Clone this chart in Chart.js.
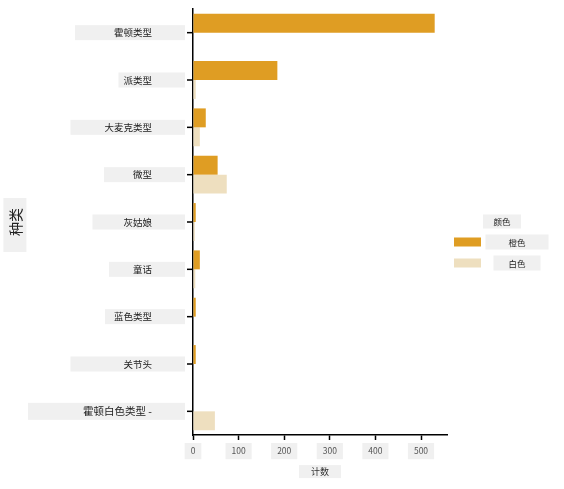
<!DOCTYPE html>
<html lang="zh">
  <head>
    <meta charset="UTF-8" />
    <title>种类计数</title>
    <script src="https://cdn.jsdelivr.net/npm/chart.js@4"></script>
    <style>
      html, body { margin: 0; padding: 0; background: #fff; }
    </style>
  </head>
  <body>
    <canvas id="myChart" width="564" height="489"></canvas>
    <script>
      // data
      const varieties = ["霍顿类型", "派类型", "大麦克类型", "微型", "灰姑娘", "童话", "蓝色类型", "关节头", "霍顿白色类型 -"];
      const orangeCounts = [530, 185, 28, 54, 6, 15, 6, 6, 0];
      const whiteCounts = [0, 6, 15, 74, 4, 5, 0, 0, 48];
      const seriesNames = ["橙色", "白色"];
      const xTicks = [0, 100, 200, 300, 400, 500];
      const xTitle = "计数";
      const yTitle = "种类";
      const legendTitle = "颜色";

      const FONT = "'Noto Sans CJK SC', 'Noto Sans', sans-serif";
      const BOX = "#f0f0f0";
      const Y_PAD = 36;
      // grey label boxes: extra room left of each category label
      const catBoxLeft = [39, 5, 34, 29, 31, 24, 9, 53, 55];

      const catFont = (i) => (i === varieties.length - 1 ? 10.5 : 9.5);

      const labelBoxes = {
        id: "labelBoxes",
        beforeDraw(chart) {
          const ctx = chart.ctx;
          const area = chart.chartArea;
          const x = chart.scales.x;
          const y = chart.scales.y;
          ctx.save();
          ctx.fillStyle = BOX;
          // y title box
          const ycx = y.left + 7 + 14 * 1.2 / 2;
          const ycy = (area.top + area.bottom) / 2;
          ctx.fillRect(ycx - 12, ycy - 24, 23, 54);
          // x title box
          const xcx = (area.left + area.right) / 2;
          const xcy = x.bottom - 4 - 9 * 1.2 / 2;
          ctx.fillRect(xcx - 21, xcy - 6.5, 42, 13);
          // category label boxes
          const textRight = y.right - 5 - Y_PAD;
          y.ticks.forEach((t, i) => {
            ctx.font = catFont(i) + "px " + FONT;
            const w = ctx.measureText(varieties[i]).width;
            const cy = y.getPixelForTick(i);
            const left = textRight - w - catBoxLeft[i];
            const h = i === varieties.length - 1 ? 17 : 15;
            ctx.fillStyle = BOX;
            ctx.fillRect(left, cy - h / 2, textRight + 33 - left, h);
          });
          ctx.restore();
        },
        afterDraw(chart) {
          const ctx = chart.ctx;
          const area = chart.chartArea;
          const y = chart.scales.y;
          ctx.save();
          // tick marks at category centres
          ctx.fillStyle = "#000";
          y.ticks.forEach((t, i) => {
            const cy = y.getPixelForTick(i);
            ctx.fillRect(area.left - 6, cy - 0.75, 6, 1.5);
          });
          // legend
          const x0 = area.right + 7;
          const mid = (area.top + area.bottom) / 2;
          ctx.textBaseline = "middle";
          ctx.textAlign = "center";
          ctx.font = "8.5px " + FONT;
          ctx.fillStyle = BOX;
          ctx.fillRect(x0 + 29, mid - 7.5, 38, 14);
          ctx.fillStyle = "#222";
          ctx.fillText(legendTitle, x0 + 48, mid - 0.5);
          const pads = [23, 15];
          chart.data.datasets.forEach((ds, i) => {
            const cy = mid + 20 + i * 21;
            ctx.fillStyle = ds.backgroundColor;
            ctx.fillRect(x0, cy - 4.5, 27, 9);
            const tx = x0 + 63;
            const w = ctx.measureText(ds.label).width;
            ctx.fillStyle = BOX;
            ctx.fillRect(tx - w / 2 - pads[i], cy - 7.5, w + pads[i] * 2, 15);
            ctx.fillStyle = "#222";
            ctx.fillText(ds.label, tx, cy + 0.5);
          });
          ctx.restore();
        },
      };

      new Chart(document.getElementById("myChart"), {
        type: "bar",
        data: {
          labels: varieties,
          datasets: [
            { label: seriesNames[0], data: orangeCounts, backgroundColor: "#df9d23" },
            { label: seriesNames[1], data: whiteCounts, backgroundColor: "#eedfbf" },
          ],
        },
        options: {
          indexAxis: "y",
          responsive: false,
          animation: false,
          layout: { padding: { top: 9, right: 117, bottom: 8, left: 0 } },
          datasets: { bar: { barPercentage: 1, categoryPercentage: 0.8 } },
          plugins: { legend: { display: false }, tooltip: { enabled: false } },
          scales: {
            x: {
              min: 0,
              max: 557,
              afterBuildTicks: (s) => { s.ticks = xTicks.map((v) => ({ value: v })); },
              border: { color: "#000", width: 1.5 },
              grid: { drawOnChartArea: false, color: "#000", tickLength: 5, tickWidth: 1.5 },
              ticks: {
                color: "#555",
                font: { family: FONT, size: 8.5 },
                padding: 6,
                showLabelBackdrop: true,
                backdropColor: BOX,
                backdropPadding: { top: 3, bottom: 3, left: 6, right: 6 },
              },
              title: {
                display: true,
                text: xTitle,
                color: "#333",
                font: { family: FONT, size: 9 },
                padding: { top: 4, bottom: 4 },
              },
            },
            y: {
              afterFit: (s) => {
                s.width = 193;
                s.paddingTop = 0;
                s.paddingBottom = 0;
              },
              border: { display: true, color: "#000", width: 1.5 },
              grid: { display: false, tickLength: 5 },
              ticks: {
                color: "#222",
                crossAlign: "near",
                padding: Y_PAD,
                font: (c) => ({ family: FONT, size: catFont(c.index) }),
              },
              title: {
                display: true,
                text: yTitle,
                color: "#222",
                font: { family: FONT, size: 14 },
                padding: { top: 7, bottom: 0 },
              },
            },
          },
        },
        plugins: [labelBoxes],
      });
    </script>
  </body>
</html>
